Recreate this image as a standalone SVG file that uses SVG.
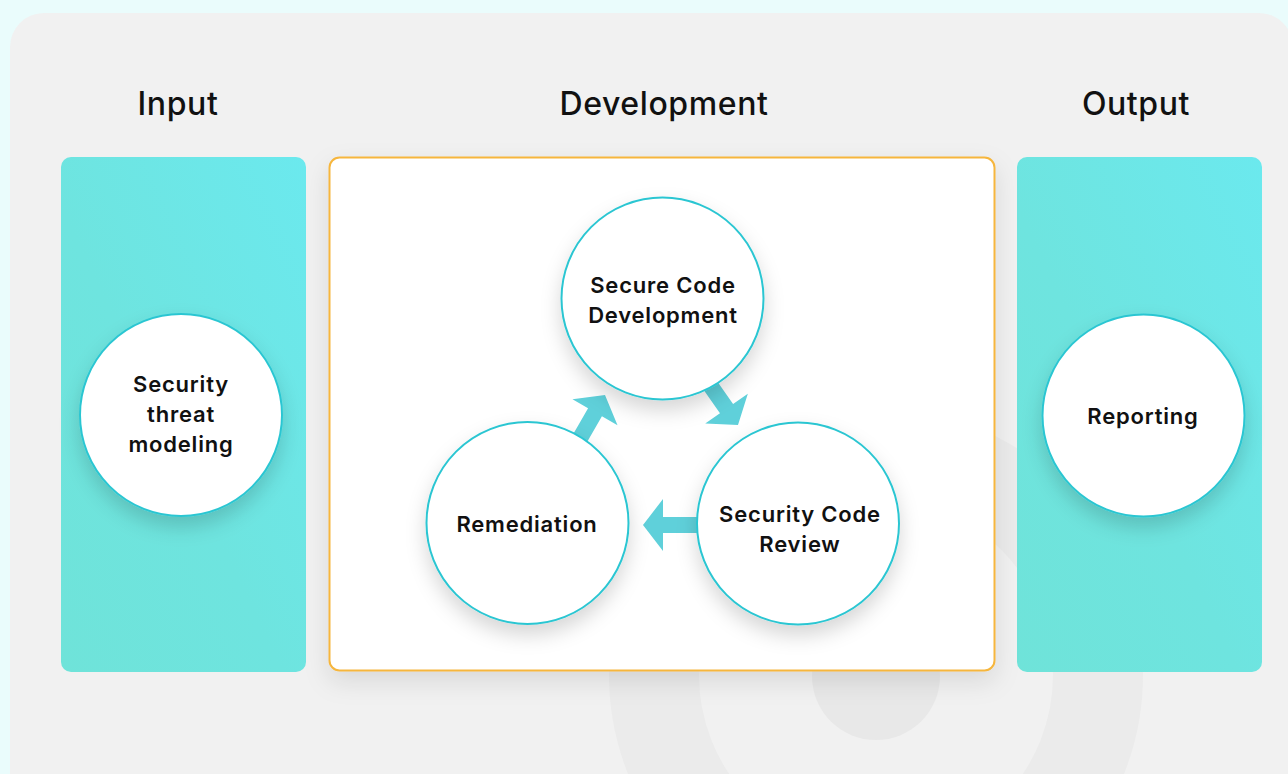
<svg xmlns="http://www.w3.org/2000/svg" width="1288" height="774" viewBox="0 0 1288 774">
  <defs>
    <linearGradient id="panelGrad" x1="1" y1="0" x2="0" y2="1">
      <stop offset="0" stop-color="#6be9ee"/>
      <stop offset="0.55" stop-color="#6ee4df"/>
      <stop offset="1" stop-color="#6fe3d9"/>
    </linearGradient>
    <filter id="circleShadow" x="-40%" y="-40%" width="180%" height="190%">
      <feDropShadow dx="0" dy="10" stdDeviation="10" flood-color="#000" flood-opacity="0.16"/>
    </filter>
    <filter id="boxShadow" x="-10%" y="-10%" width="120%" height="125%">
      <feDropShadow dx="0" dy="10" stdDeviation="12" flood-color="#000" flood-opacity="0.10"/>
    </filter>
    <path id="arrowShape" d="M0,0 L-20,-26 L-20,-8 L-60,-8 L-60,8 L-20,8 L-20,26 Z"/>
  </defs>
  <style>
    .heading { font-family: Inter, "Liberation Sans", sans-serif; font-size: 32px; font-weight: 500; fill: #111; text-anchor: middle; letter-spacing: 0.6px; }
    .label { font-family: Inter, "Liberation Sans", sans-serif; font-size: 22px; font-weight: 600; fill: #111; text-anchor: middle; letter-spacing: 0.8px; }
    .panel { fill: url(#panelGrad); }
    .node { fill: #ffffff; stroke: #2cc6d2; stroke-width: 2; filter: url(#circleShadow); }
    .arrow { fill: #5fd0da; }
  </style>

  <!-- background -->
  <rect x="0" y="0" width="1288" height="774" fill="#eafcfc"/>
  <rect x="10" y="13" width="1283" height="800" rx="34" fill="#f1f1f1"/>
  <!-- decoration -->
  <circle cx="876" cy="675" r="222" fill="none" stroke="#ebebeb" stroke-width="90"/>
  <circle cx="876" cy="676" r="64" fill="#e8e8e8"/>

  <!-- headings -->
  <text class="heading" x="178" y="115">Input</text>
  <text class="heading" x="664" y="115">Development</text>
  <text class="heading" x="1136" y="115">Output</text>

  <!-- panels -->
  <g id="input-panel">
    <rect class="panel" x="61" y="157" width="245" height="515" rx="10"/>
  </g>
  <g id="output-panel">
    <rect class="panel" x="1017" y="157" width="245" height="515" rx="10"/>
  </g>
  <g id="development-box">
    <rect x="329.5" y="157.5" width="665" height="513" rx="10" fill="#ffffff" stroke="#f6b63e" stroke-width="2" filter="url(#boxShadow)"/>
  </g>

  <!-- connectors -->
  <g id="connectors">
    <use href="#arrowShape" class="arrow" transform="translate(605,395) rotate(-60)"/>
    <use href="#arrowShape" class="arrow" transform="translate(738,425) rotate(55)"/>
    <use href="#arrowShape" class="arrow" transform="translate(643,525) rotate(180)"/>
  </g>

  <!-- nodes -->
  <g id="node-threat-modeling">
    <circle class="node" cx="181" cy="415" r="101"/>
    <text class="label" x="181" y="392">Security</text>
    <text class="label" x="181" y="422">threat</text>
    <text class="label" x="181" y="452">modeling</text>
  </g>
  <g id="node-secure-code-development">
    <circle class="node" cx="662.5" cy="298.5" r="101"/>
    <text class="label" x="663" y="293">Secure Code</text>
    <text class="label" x="663" y="323">Development</text>
  </g>
  <g id="node-security-code-review">
    <circle class="node" cx="798" cy="523.5" r="101"/>
    <text class="label" x="800" y="522">Security Code</text>
    <text class="label" x="800" y="552">Review</text>
  </g>
  <g id="node-remediation">
    <circle class="node" cx="527.5" cy="523" r="101"/>
    <text class="label" x="527" y="532">Remediation</text>
  </g>
  <g id="node-reporting">
    <circle class="node" cx="1143.5" cy="415.5" r="101"/>
    <text class="label" x="1143" y="424">Reporting</text>
  </g>
</svg>
